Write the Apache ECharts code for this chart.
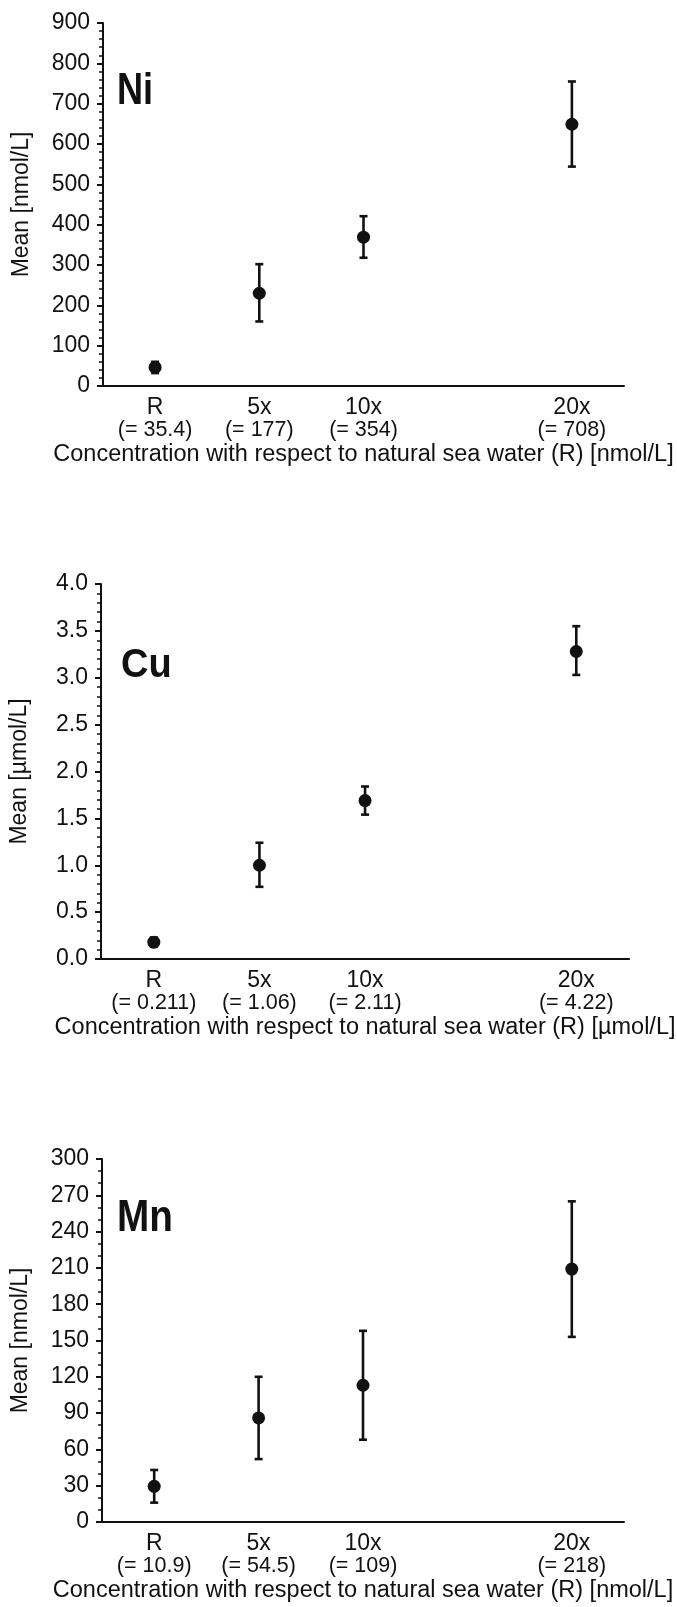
<!DOCTYPE html>
<html>
<head>
<meta charset="utf-8">
<script src="https://cdn.jsdelivr.net/npm/echarts@6/dist/echarts.min.js"></script>
<style>
html,body{margin:0;padding:0;background:#fff;}
#c{width:677px;height:1607px;}
</style>
</head>
<body>
<div id="c"></div>
<script>
// ---- data ----
const categories = ['R', '5x', '10x', '', '20x'];
const niConc = ['35.4', '177', '354', '', '708'];
const cuConc = ['0.211', '1.06', '2.11', '', '4.22'];
const mnConc = ['10.9', '54.5', '109', '', '218'];

const niMean = [46, 230, 369, null, 649];
const niLow  = [32, 160, 318, null, 544];
const niHigh = [60, 302, 421, null, 755];

const cuMean = [0.18, 1.00, 1.69, null, 3.28];
const cuLow  = [0.13, 0.77, 1.54, null, 3.03];
const cuHigh = [0.23, 1.24, 1.84, null, 3.55];

const mnMean = [29.5, 86, 113, null, 209];
const mnLow  = [16, 52, 68, null, 153];
const mnHigh = [43, 120, 158, null, 265];

const niYTicks = {min: 0, max: 900, interval: 100, minor: 5};
const cuYTicks = {min: 0, max: 4, interval: 0.5, minor: 5};
const mnYTicks = {min: 0, max: 300, interval: 30, minor: 3};

// ---- helpers ----
const FONT = '"Liberation Sans", Arial, Helvetica, sans-serif';
const INK = '#111111';

function meanData(mean) {
  return mean.map((v, i) => v == null ? null : [i, v]).filter(Boolean);
}
function errData(lo, hi) {
  return lo.map((v, i) => v == null ? null : [i, v, hi[i]]).filter(Boolean);
}
function errRender(params, api) {
  const x = api.value(0);
  const a = api.coord([x, api.value(1)]);
  const b = api.coord([x, api.value(2)]);
  const w = 4;
  const st = {stroke: INK, lineWidth: 2.6};
  return {
    type: 'group',
    children: [
      {type: 'line', shape: {x1: a[0], y1: a[1], x2: b[0], y2: b[1]}, style: st},
      {type: 'line', shape: {x1: a[0] - w, y1: a[1], x2: a[0] + w, y2: a[1]}, style: st},
      {type: 'line', shape: {x1: b[0] - w, y1: b[1], x2: b[0] + w, y2: b[1]}, style: st}
    ]
  };
}

const grids = [
  {left: 103, right: 53, top: 23, height: 363},
  {left: 100, right: 39, top: 584, height: 375},
  {left: 102, right: 53, top: 1159, height: 363}
];

function makeX(gi, conc, unit) {
  return {
    type: 'category', gridIndex: gi, data: categories, boundaryGap: true,
    name: 'Concentration with respect to natural sea water (R) [' + unit + ']',
    nameLocation: 'middle', nameGap: 56,
    nameTextStyle: {fontFamily: FONT, fontSize: 23.5, color: INK},
    axisLine: {lineStyle: {color: INK, width: 2}},
    axisTick: {alignWithLabel: true, length: 7, lineStyle: {color: INK, width: 2}},
    axisLabel: {
      interval: 0, margin: 10,
      fontFamily: FONT, color: INK,
      formatter: function (v, i) {
        if (!v) return '';
        return '{a|' + v + '}\n{b|(= ' + conc[i] + ')}';
      },
      rich: {
        a: {fontFamily: FONT, fontSize: 23, lineHeight: 23, color: INK},
        b: {fontFamily: FONT, fontSize: 21.5, lineHeight: 23, color: INK}
      }
    },
    splitLine: {show: false}
  };
}
function makeY(gi, t, unit, dec) {
  return {
    type: 'value', gridIndex: gi, min: t.min, max: t.max, interval: t.interval,
    name: 'Mean [' + unit + ']', nameLocation: 'middle', nameRotate: 90, nameGap: 70,
    nameTextStyle: {fontFamily: FONT, fontSize: 23, color: INK},
    axisLine: {show: true, lineStyle: {color: INK, width: 2}},
    axisTick: {show: true, length: 6, lineStyle: {color: INK, width: 2}},
    minorTick: {show: true, splitNumber: t.minor, length: 4, lineStyle: {color: INK, width: 1.5}},
    axisLabel: {
      margin: 13, fontFamily: FONT, fontSize: 23, color: INK,
      formatter: v => dec ? v.toFixed(dec) : String(v)
    },
    splitLine: {show: false}
  };
}

const sets = [
  {mean: niMean, lo: niLow, hi: niHigh},
  {mean: cuMean, lo: cuLow, hi: cuHigh},
  {mean: mnMean, lo: mnLow, hi: mnHigh}
];
const series = [];
sets.forEach((s, gi) => {
  series.push({
    type: 'custom', xAxisIndex: gi, yAxisIndex: gi,
    renderItem: errRender, data: errData(s.lo, s.hi), z: 2, silent: true
  });
  series.push({
    type: 'scatter', xAxisIndex: gi, yAxisIndex: gi,
    data: meanData(s.mean), symbol: 'circle', symbolSize: 13,
    itemStyle: {color: INK, opacity: 1}, z: 3, silent: true
  });
});

function elemLabel(text, x, y, size, sx) {
  return {
    type: 'text', x: x, y: y, scaleX: sx, z: 10,
    style: {text: text, fontFamily: FONT, fontWeight: 'bold', fontSize: size,
            fill: '#111', textVerticalAlign: 'middle', verticalAlign: 'middle'}
  };
}

const chart = echarts.init(document.getElementById('c'), null, {renderer: 'canvas'});
chart.setOption({
  animation: false,
  backgroundColor: '#fff',
  grid: grids,
  xAxis: [
    makeX(0, niConc, 'nmol/L'),
    makeX(1, cuConc, 'µmol/L'),
    makeX(2, mnConc, 'nmol/L')
  ],
  yAxis: [
    makeY(0, niYTicks, 'nmol/L', 0),
    makeY(1, cuYTicks, 'µmol/L', 1),
    makeY(2, mnYTicks, 'nmol/L', 0)
  ],
  graphic: [
    elemLabel('Ni', 117, 92, 44, 0.82),
    elemLabel('Cu', 121, 666, 40, 0.95),
    elemLabel('Mn', 117, 1219, 44, 0.88)
  ],
  series: series
});
</script>
</body>
</html>
